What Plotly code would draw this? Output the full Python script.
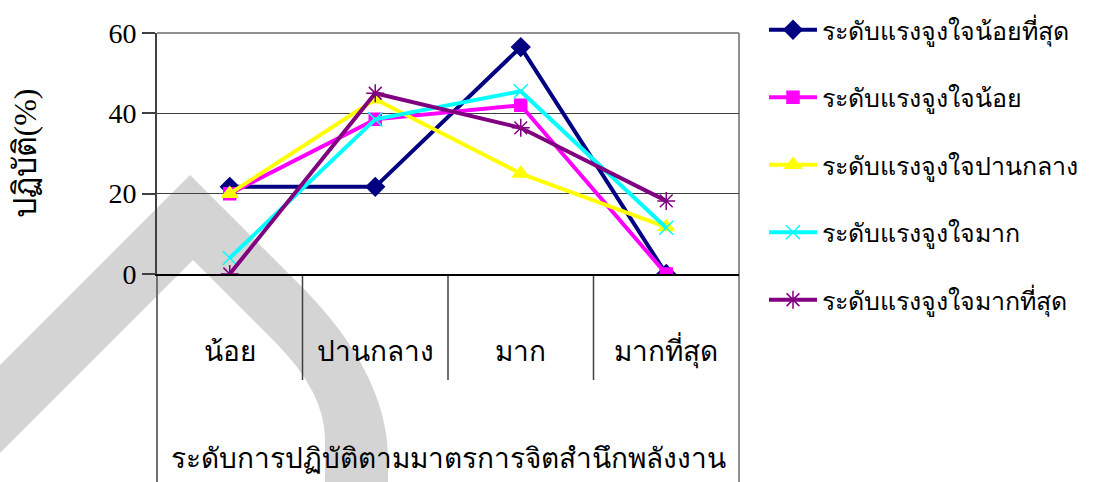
import plotly.graph_objects as go

# Practice level categories (x axis)
categories = ["น้อย", "ปานกลาง", "มาก", "มากที่สุด"]

# Percent of respondents per motivation level
series_names = [
    "ระดับแรงจูงใจน้อยที่สุด",
    "ระดับแรงจูงใจน้อย",
    "ระดับแรงจูงใจปานกลาง",
    "ระดับแรงจูงใจมาก",
    "ระดับแรงจูงใจมากที่สุด",
]
motivation_lowest = [21.7, 21.7, 56.5, 0]
motivation_low = [20.0, 38.5, 42.0, 0]
motivation_medium = [20.0, 43.5, 25.0, 11.7]
motivation_high = [4.0, 38.5, 45.5, 11.5]
motivation_highest = [0, 45.0, 36.4, 18.2]

y_ticks = [0, 20, 40, 60]

W, H = 1096, 482
L, R, T, B = 157, 357, 33, 208
PW, PH = W - L - R, H - T - B

serif = "Liberation Serif, Times New Roman, serif"

styles = [
    dict(color="#000080", symbol="diamond", size=14, lw=4),
    dict(color="#FF00FF", symbol="square", size=12, lw=4),
    dict(color="#FFFF00", symbol="triangle-up", size=14, lw=4),
    dict(color="#00FFFF", symbol="x-thin-open", size=14, lw=4),
    dict(color="#800080", symbol="asterisk-open", size=15, lw=4),
]
values = [motivation_lowest, motivation_low, motivation_medium,
          motivation_high, motivation_highest]

fig = go.Figure()
for i, (name, vals, st) in enumerate(zip(series_names, values, styles)):
    fig.add_trace(go.Scatter(
        x=categories, y=vals, name=name, mode="lines+markers",
        legendgroup=f"g{i}",
        line=dict(color=st["color"], width=st["lw"]),
        marker=dict(symbol=st["symbol"], size=st["size"], color=st["color"],
                    line=dict(color=st["color"], width=1.5)),
    ))


def px_to_paper(px, py):
    return (px - L) / PW, 1 - (py - T) / PH


# light grey band in the background
band_px = [
    ("M", -20, 385), ("L", 190, 175), ("L", 300, 285),
    ("Q", 388, 373, 388, 460), ("L", 388, 500), ("L", 325, 500),
    ("L", 325, 440), ("Q", 325, 392, 275, 342), ("L", 193, 260),
    ("L", -20, 473),
]
parts = []
for seg in band_px:
    cmd, coords = seg[0], seg[1:]
    pts = []
    for j in range(0, len(coords), 2):
        xp, yp = px_to_paper(coords[j], coords[j + 1])
        pts.append(f"{xp:.5f},{yp:.5f}")
    parts.append(cmd + " " + " ".join(pts))
band_path = " ".join(parts) + " Z"

bottom = px_to_paper(0, 482)[1]
divider_bottom = px_to_paper(0, 380)[1]

shapes = [
    dict(type="path", path=band_path, xref="paper", yref="paper",
         fillcolor="#d4d4d4", line=dict(width=0), layer="below"),
    # outer frame of the category area
    dict(type="line", xref="paper", yref="paper", x0=0, x1=0, y0=0, y1=bottom,
         line=dict(color="#707070", width=2), layer="below"),
    dict(type="line", xref="paper", yref="paper", x0=1, x1=1, y0=1, y1=bottom,
         line=dict(color="#909090", width=2), layer="below"),
    dict(type="line", xref="paper", yref="paper", x0=0, x1=1, y0=1, y1=1,
         line=dict(color="#909090", width=2), layer="below"),
]
# dividers between category labels
for k in range(len(categories) - 1):
    xp = (k + 1) / len(categories)
    shapes.append(dict(type="line", xref="paper", yref="paper",
                       x0=xp, x1=xp, y0=0, y1=divider_bottom,
                       line=dict(color="#404040", width=1.5), layer="below"))

fig.update_layout(
    width=W, height=H,
    margin=dict(l=L, r=R, t=T, b=B, pad=0, autoexpand=False),
    paper_bgcolor="white",
    plot_bgcolor="rgba(0,0,0,0)",
    font=dict(family=serif, size=28, color="black"),
    shapes=shapes,
    showlegend=True,
    legend=dict(
        x=px_to_paper(764, 0)[0], y=px_to_paper(0, 7)[1],
        xanchor="left", yanchor="top",
        font=dict(family=serif, size=25, color="black"),
        tracegroupgap=32, bgcolor="rgba(0,0,0,0)",
        itemwidth=48, maxheight=475,
    ),
    xaxis=dict(
        type="category", range=[-0.5, 3.5], showgrid=False, automargin=False,
        showline=True, linecolor="black", linewidth=1.5,
        ticks="", ticklabelstandoff=52,
        tickfont=dict(family=serif, size=28),
        title=dict(text="ระดับการปฏิบัติตามมาตรการจิตสำนึกพลังงาน",
                   font=dict(family=serif, size=28), standoff=80),
        zeroline=False,
    ),
    yaxis=dict(
        range=[0, 60], tickvals=y_ticks, showgrid=True, automargin=False,
        gridcolor="#404040", gridwidth=1,
        showline=True, linecolor="#404040", linewidth=2,
        ticks="outside", ticklen=13, tickcolor="#404040", tickwidth=1.5,
        tickfont=dict(family=serif, size=28),
        zeroline=False,
        title=dict(text="ปฏิบัติ(%)", font=dict(family=serif, size=32),
                   standoff=62),
    ),
)

fig.write_html("out.html")
